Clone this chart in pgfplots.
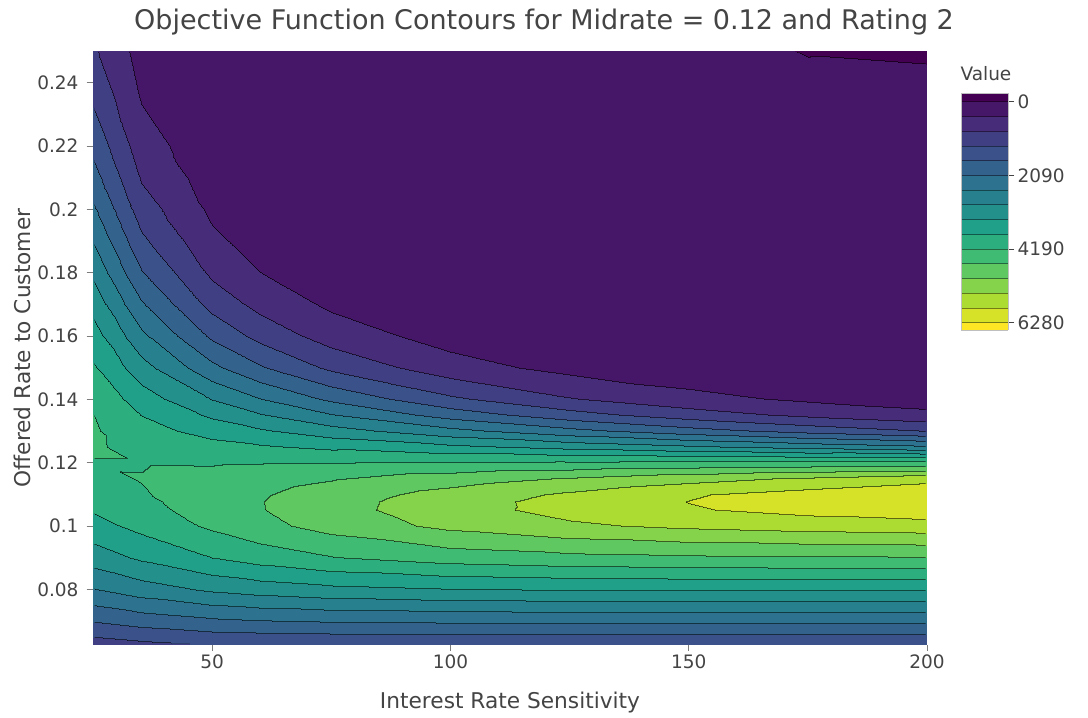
\documentclass[border=0pt]{standalone}
\usepackage{pgfplots}
\usepackage{pgfplotstable}
\pgfplotsset{compat=1.18}
\usepackage{fontspec}
\setmainfont{DejaVu Sans}
\setsansfont{DejaVu Sans}
\definecolor{txt}{HTML}{444444}
\pgfplotstableread{
x y z
25 0.0625 1041
35 0.0625 1150
50 0.0625 1262
60 0.0625 1275
75 0.0625 1285
100 0.0625 1290
125 0.0625 1292
150 0.0625 1292
175 0.0625 1292
200 0.0625 1292
25 0.07 1704
35 0.07 1867
50 0.07 2024
60 0.07 2085
75 0.07 2137
100 0.07 2171
125 0.07 2181
150 0.07 2184
175 0.07 2185
200 0.07 2185
25 0.08 2485
35 0.08 2727
50 0.08 2992
60 0.08 3113
75 0.08 3231
100 0.08 3328
125 0.08 3364
150 0.08 3378
175 0.08 3383
200 0.08 3384
25 0.09 3129
35 0.09 3415
50 0.09 3769
60 0.09 3954
75 0.09 4165
100 0.09 4380
125 0.09 4488
150 0.09 4540
175 0.09 4564
200 0.09 4576
25 0.1 3621
35 0.1 3892
50 0.1 4262
60 0.1 4482
75 0.1 4767
100 0.1 5131
125 0.1 5376
150 0.1 5534
175 0.1 5633
200 0.1 5693
25 0.105 3807
35 0.105 4043
50 0.105 4378
60 0.105 4585
75 0.105 4872
100 0.105 5275
125 0.105 5588
150 0.105 5825
175 0.105 5994
200 0.105 6115
25 0.1075 3885
35 0.1075 4097
50 0.1075 4399
60 0.1075 4591
75 0.1075 4863
100 0.1075 5263
125 0.1075 5595
150 0.1075 5870
175 0.1075 6070
200 0.1075 6231
25 0.11 3953
35 0.11 4150
50 0.11 4395
60 0.11 4565
75 0.11 4810
100 0.11 5185
125 0.11 5516
150 0.11 5825
175 0.11 6037
200 0.11 6234
25 0.115 4110
35 0.115 4200
50 0.115 4319
60 0.115 4422
75 0.115 4575
100 0.115 4824
125 0.115 5064
150 0.115 5292
175 0.115 5509
200 0.115 5712
25 0.12 4170
35 0.12 4165
50 0.12 4152
60 0.12 4164
75 0.12 4181
100 0.12 4210
125 0.12 4239
150 0.12 4269
175 0.12 4298
200 0.12 4327
25 0.125 4235
35 0.125 4060
50 0.125 3909
60 0.125 3813
75 0.125 3671
100 0.125 3436
125 0.125 3207
150 0.125 2985
175 0.125 2771
200 0.125 2566
25 0.13 4230
35 0.13 3926
50 0.13 3607
60 0.13 3400
75 0.13 3100
100 0.13 2631
125 0.13 2209
150 0.13 1836
175 0.13 1512
200 0.13 1236
25 0.135 4190
35 0.135 3759
50 0.135 3267
60 0.135 2958
75 0.135 2528
100 0.135 1909
125 0.135 1412
150 0.135 1029
175 0.135 740
200 0.135 528
25 0.14 4110
35 0.14 3560
50 0.14 2908
60 0.14 2516
75 0.14 2000
100 0.14 1327
125 0.14 858
150 0.14 545
175 0.14 342
200 0.14 213
25 0.15 3819
35 0.15 3101
50 0.15 2201
60 0.15 1722
75 0.15 1168
100 0.15 590
125 0.15 290
150 0.15 141
175 0.15 68
200 0.15 60
25 0.16 3530
35 0.16 2611
50 0.16 1588
60 0.16 1115
75 0.16 642
100 0.16 247
125 0.16 93
150 0.16 60
175 0.16 60
200 0.16 60
25 0.17 3195
35 0.17 2137
50 0.17 1105
60 0.17 695
75 0.17 340
100 0.17 101
125 0.17 60
150 0.17 60
175 0.17 60
200 0.17 60
25 0.18 2841
35 0.18 1709
50 0.18 750
60 0.18 423
75 0.18 176
100 0.18 60
125 0.18 60
150 0.18 60
175 0.18 60
200 0.18 60
25 0.19 2486
35 0.19 1342
50 0.19 500
60 0.19 254
75 0.19 90
100 0.19 60
125 0.19 60
150 0.19 60
175 0.19 60
200 0.19 60
25 0.2 2148
35 0.2 1039
50 0.2 329
60 0.2 150
75 0.2 60
100 0.2 60
125 0.2 60
150 0.2 60
175 0.2 60
200 0.2 60
25 0.21 1834
35 0.21 795
50 0.21 215
60 0.21 88
75 0.21 60
100 0.21 60
125 0.21 60
150 0.21 60
175 0.21 60
200 0.21 60
25 0.22 1552
35 0.22 604
50 0.22 139
60 0.22 60
75 0.22 60
100 0.22 60
125 0.22 60
150 0.22 60
175 0.22 60
200 0.22 60
25 0.235 1191
35 0.235 394
50 0.235 72
60 0.235 60
75 0.235 60
100 0.235 60
125 0.235 60
150 0.235 60
175 0.235 70
200 0.235 80
25 0.25 900
35 0.25 254
50 0.25 60
60 0.25 60
75 0.25 60
100 0.25 60
125 0.25 60
150 0.25 80
175 0.25 -10
200 0.25 -30
}\griddata
\pgfplotsset{
  gridaxis/.style={at={(93pt,73pt)}, anchor=south west, scale only axis,
    width=834pt, height=594pt, view={0}{90},
    point meta min=-418.667, point meta max=6698.667,
    colormap access=piecewise constant},
  bwmap/.style={colormap={bw}{gray=(0) gray=(1) gray=(0) gray=(1) gray=(0) gray=(1) gray=(0) gray=(1) gray=(0) gray=(1) gray=(0) gray=(1) gray=(0) gray=(1) gray=(0) gray=(1) gray=(0)}},
  gridplot/.style={surf, shader=interp, mesh/rows=24, mesh/cols=10},
}
\begin{document}
\begin{tikzpicture}
\useasboundingbox (0,0) rectangle (1088pt,718pt);
\fill[white] (0,0) rectangle (1088pt,718pt);
\begin{axis}[
  gridaxis,
  xmin=25, xmax=200, ymin=0.0625, ymax=0.25,
  colormap={pv}{rgb255=(68,1,84) rgb255=(70,23,104) rgb255=(71,44,122) rgb255=(65,63,132) rgb255=(59,81,138) rgb255=(51,98,141) rgb255=(45,114,142) rgb255=(39,128,142) rgb255=(35,144,140) rgb255=(32,160,136) rgb255=(45,174,127) rgb255=(64,187,115) rgb255=(96,200,96) rgb255=(132,211,74) rgb255=(172,220,49) rgb255=(213,226,40) rgb255=(253,231,37)},
  axis line style={draw=none},
  tick align=outside,
  major tick length=6pt,
  tick style={draw=txt!70, line width=0.8pt},
  xtick={50,100,150,200},
  xticklabels={50,100,150,200},
  ytick={0.08,0.1,0.12,0.14,0.16,0.18,0.2,0.22,0.24},
  yticklabels={0.08,0.1,0.12,0.14,0.16,0.18,0.2,0.22,0.24},
  ztick=\empty,
  xtick pos=left, ytick pos=left,
  ticklabel style={font=\fontsize{18.5}{22}\selectfont, text=txt},
  yticklabel style={xshift=-5pt},
  colorbar,
  colorbar shift/.style={},
  colorbar style={
    at={(parent axis.north east)}, anchor=north west,
    xshift=34pt, yshift=-42pt,
    scale only axis, width=47pt, height=237pt,
    y dir=reverse,
    ymin=-251, ymax=6489,
    ytick={0,2093.33,4186.67,6280},
    yticklabels={0,2090,4190,6280},
    ytick pos=right, yticklabel pos=right,
    tick align=outside, major tick length=6pt,
    ytick style={draw=txt, line width=0.8pt},
    extra y ticks={0,418.67,837.33,1256,1674.67,2093.33,2512,2930.67,3349.33,3768,4186.67,4605.33,5024,5442.67,5861.33,6280},
    extra y tick labels={},
    extra y tick style={grid=major, major tick length=0pt, major grid style={black, opacity=0.45, line width=0.8pt}},
    axis on top,
    axis line style={draw=gray!50, line width=1pt},
    yticklabel style={font=\fontsize{18.5}{22}\selectfont, text=txt},
    title={Value},
    title style={at={(0,1)}, anchor=south west, xshift=-4pt, yshift=3pt, font=\fontsize{18.5}{22}\selectfont, text=txt},
    colormap access=piecewise constant,
  },
]
\addplot3[gridplot] table {\griddata};
\end{axis}
% contour lines: band edges found with a horizontal shift
\begin{scope}[blend mode=multiply]
\begin{scope}[transparency group]
\begin{scope}[blend mode=normal]
\begin{axis}[gridaxis, bwmap, hide axis, xmin=25, xmax=200, ymin=0.0625, ymax=0.25]
\addplot3[gridplot] table {\griddata};
\end{axis}
\end{scope}
\begin{scope}[blend mode=difference]
\begin{axis}[gridaxis, bwmap, hide axis, xmin=24.79017, xmax=199.79017, ymin=0.0625, ymax=0.25]
\addplot3[gridplot] table {\griddata};
\end{axis}
\end{scope}
\fill[white, blend mode=difference] (91pt,71pt) rectangle (929pt,669pt);
\fill[white, blend mode=normal, opacity=0.45] (91pt,71pt) rectangle (929pt,669pt);
\fill[white, blend mode=normal, even odd rule] (89pt,69pt) rectangle (931pt,671pt) (94.5pt,74.5pt) rectangle (925.5pt,665.5pt);
\end{scope}
\end{scope}
% contour lines: band edges found with a vertical shift
\begin{scope}[blend mode=multiply]
\begin{scope}[transparency group]
\begin{scope}[blend mode=normal]
\begin{axis}[gridaxis, bwmap, hide axis, xmin=25, xmax=200, ymin=0.0625, ymax=0.25]
\addplot3[gridplot] table {\griddata};
\end{axis}
\end{scope}
\begin{scope}[blend mode=difference]
\begin{axis}[gridaxis, bwmap, hide axis, xmin=25, xmax=200, ymin=0.06218434, ymax=0.24968434]
\addplot3[gridplot] table {\griddata};
\end{axis}
\end{scope}
\fill[white, blend mode=difference] (91pt,71pt) rectangle (929pt,669pt);
\fill[white, blend mode=normal, opacity=0.45] (91pt,71pt) rectangle (929pt,669pt);
\fill[white, blend mode=normal, even odd rule] (89pt,69pt) rectangle (931pt,671pt) (94.5pt,74.5pt) rectangle (925.5pt,665.5pt);
\end{scope}
\end{scope}
\node[font=\fontsize{27}{32}\selectfont, text=txt] at (544pt,696pt) {Objective Function Contours for Midrate = 0.12 and Rating 2};
\node[font=\fontsize{21.7}{26}\selectfont, text=txt] at (510pt,15pt) {Interest Rate Sensitivity};
\node[font=\fontsize{21.7}{26}\selectfont, text=txt, rotate=90] at (22pt,370pt) {Offered Rate to Customer};
\end{tikzpicture}
\end{document}
